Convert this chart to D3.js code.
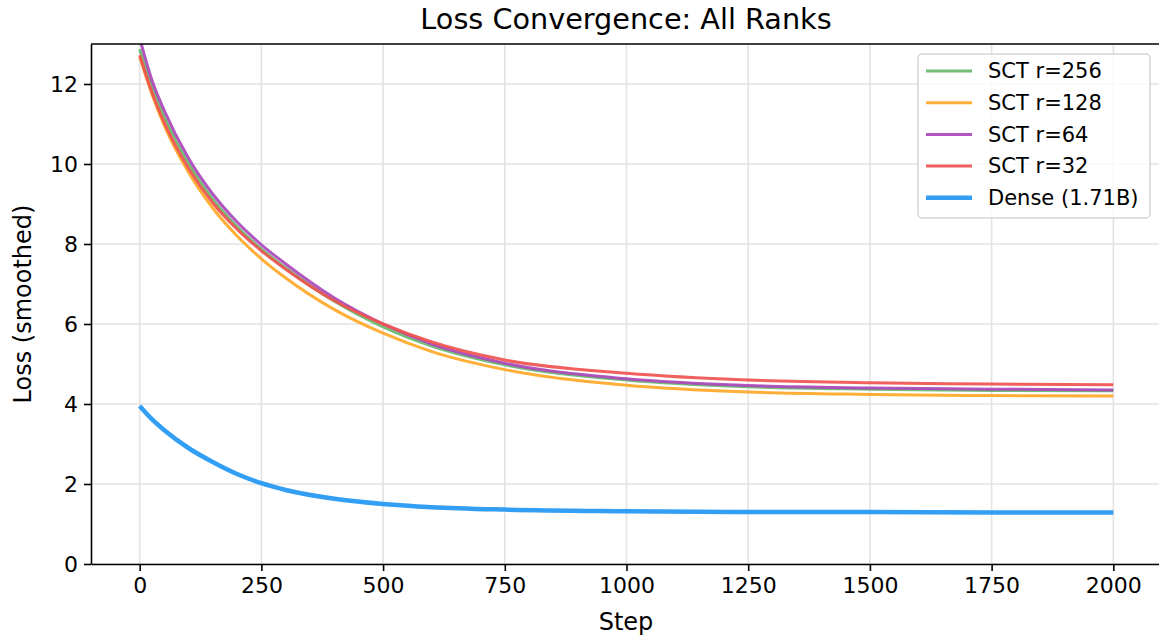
<!DOCTYPE html>
<html>
<head>
<meta charset="utf-8">
<script src="https://cdn.jsdelivr.net/npm/d3@7"></script>
<style>
  body { margin: 0; background: #fff; }
  text { font-family: "DejaVu Sans", sans-serif; fill: #000; }
</style>
</head>
<body>
<div id="graphe"></div>
<script>
//----------------------------------------------------------------
// données
var pas = [0, 25, 50, 100, 150, 200, 250, 300, 400, 500, 600, 750, 1000, 1250, 1500, 1750, 2000];
var sct256 = [12.87, 11.95, 11.2, 10.02, 9.12, 8.43, 7.87, 7.4, 6.57, 5.93, 5.45, 4.98, 4.6, 4.43, 4.37, 4.34, 4.33];
var sct128 = [12.68, 11.75, 10.98, 9.8, 8.9, 8.2, 7.63, 7.15, 6.36, 5.77, 5.31, 4.86, 4.47, 4.3, 4.24, 4.21, 4.2];
var sct64 = [13.15, 12.1, 11.35, 10.15, 9.25, 8.55, 7.98, 7.5, 6.65, 6.0, 5.5, 5.02, 4.63, 4.46, 4.4, 4.37, 4.35];
var sct32 = [12.72, 11.8, 11.05, 9.9, 9.03, 8.37, 7.83, 7.37, 6.58, 6.0, 5.55, 5.1, 4.77, 4.6, 4.53, 4.5, 4.48];
var dense = [3.95, 3.62, 3.35, 2.9, 2.55, 2.25, 2.02, 1.85, 1.63, 1.5, 1.42, 1.36, 1.32, 1.3, 1.3, 1.29, 1.29];

var series = [
  { nom: "SCT r=256", valeurs: sct256, couleur: "#66BB6A", epaisseur: 3 },
  { nom: "SCT r=128", valeurs: sct128, couleur: "#FFA726", epaisseur: 3 },
  { nom: "SCT r=64", valeurs: sct64, couleur: "#AB47BC", epaisseur: 3 },
  { nom: "SCT r=32", valeurs: sct32, couleur: "#EF5350", epaisseur: 3 },
  { nom: "Dense (1.71B)", valeurs: dense, couleur: "#2196F3", epaisseur: 4.5 }
];
var ticksX = [0, 250, 500, 750, 1000, 1250, 1500, 1750, 2000];
var ticksY = [0, 2, 4, 6, 8, 10, 12];

//----------------------------------------------------------------
// crée le svg
var largeur = 1159, hauteur = 636;
var marge = { gauche: 91, droite: 1162, haut: 44, bas: 564 };
var svg = d3.select("#graphe")
  .append("svg")
  .attr("width", largeur)
  .attr("height", hauteur);

var x = d3.scaleLinear().domain([-100, 2100]).range([marge.gauche, marge.droite]);
var y = d3.scaleLinear().domain([0, 13]).range([marge.bas, marge.haut]);

svg.append("clipPath").attr("id", "zone")
  .append("rect")
  .attr("x", marge.gauche).attr("y", marge.haut)
  .attr("width", marge.droite - marge.gauche)
  .attr("height", marge.bas - marge.haut);

//----------------------------------------------------------------
// grille
var grille = svg.append("g");
grille.selectAll(".gx").data(ticksX).enter().append("line")
  .attr("x1", function(d){ return x(d); }).attr("x2", function(d){ return x(d); })
  .attr("y1", marge.haut).attr("y2", marge.bas)
  .attr("stroke", "#e3e3e3").attr("stroke-width", 1.6);
grille.selectAll(".gy").data(ticksY).enter().append("line")
  .attr("x1", marge.gauche).attr("x2", marge.droite)
  .attr("y1", function(d){ return y(d); }).attr("y2", function(d){ return y(d); })
  .attr("stroke", "#e3e3e3").attr("stroke-width", 1.6);

//----------------------------------------------------------------
// courbes
var ligne = d3.line()
  .x(function(d, i){ return x(pas[i]); })
  .y(function(d){ return y(d); })
  .curve(d3.curveMonotoneX);

svg.append("g").attr("clip-path", "url(#zone)")
  .selectAll("path").data(series).enter()
  .append("path")
  .attr("d", function(s){ return ligne(s.valeurs); })
  .attr("fill", "none")
  .attr("stroke", function(s){ return s.couleur; })
  .attr("stroke-width", function(s){ return s.epaisseur; })
  .attr("stroke-opacity", 0.92)
  .attr("stroke-linecap", "butt");

//----------------------------------------------------------------
// axes
var axeX = svg.append("g")
  .attr("transform", "translate(0," + marge.bas + ")")
  .call(d3.axisBottom(x).tickValues(ticksX).tickSizeInner(7).tickSizeOuter(0).tickPadding(6).tickFormat(d3.format("d")));
var axeY = svg.append("g")
  .attr("transform", "translate(" + marge.gauche + ",0)")
  .call(d3.axisLeft(y).tickValues(ticksY).tickSizeInner(7).tickSizeOuter(0).tickPadding(6).tickFormat(d3.format("d")));
[axeX, axeY].forEach(function(a){
  a.selectAll("text").attr("font-size", "22px").attr("font-family", "DejaVu Sans");
  a.selectAll("line").attr("stroke-width", 1.6);
  a.select(".domain").attr("stroke-width", 1.6);
});
// bord du haut
svg.append("line")
  .attr("x1", marge.gauche).attr("x2", marge.droite)
  .attr("y1", marge.haut).attr("y2", marge.haut)
  .attr("stroke", "#000").attr("stroke-width", 1.6);

//----------------------------------------------------------------
// titres
svg.append("text")
  .attr("x", 626).attr("y", 29)
  .attr("text-anchor", "middle")
  .attr("font-size", "28.7px")
  .text("Loss Convergence: All Ranks");
svg.append("text")
  .attr("x", 626).attr("y", 630)
  .attr("text-anchor", "middle")
  .attr("font-size", "24px")
  .text("Step");
svg.append("text")
  .attr("transform", "translate(31,304) rotate(-90)")
  .attr("text-anchor", "middle")
  .attr("font-size", "24px")
  .text("Loss (smoothed)");

//----------------------------------------------------------------
// légende
var legende = svg.append("g");
legende.append("rect")
  .attr("x", 918).attr("y", 54)
  .attr("width", 232).attr("height", 164)
  .attr("rx", 4)
  .attr("fill", "#fff").attr("fill-opacity", 0.8)
  .attr("stroke", "#d6d6d6").attr("stroke-width", 1.5);
var entrees = legende.selectAll(".entree").data(series).enter()
  .append("g")
  .attr("transform", function(d, i){ return "translate(0," + (71 + i * 31.7) + ")"; });
entrees.append("line")
  .attr("x1", 926).attr("x2", 972)
  .attr("stroke", function(d){ return d.couleur; })
  .attr("stroke-width", function(d){ return d.epaisseur; })
  .attr("stroke-opacity", 0.92);
entrees.append("text")
  .attr("x", 988).attr("dy", "0.35em")
  .attr("font-size", "21px")
  .text(function(d){ return d.nom; });
</script>
</body>
</html>
